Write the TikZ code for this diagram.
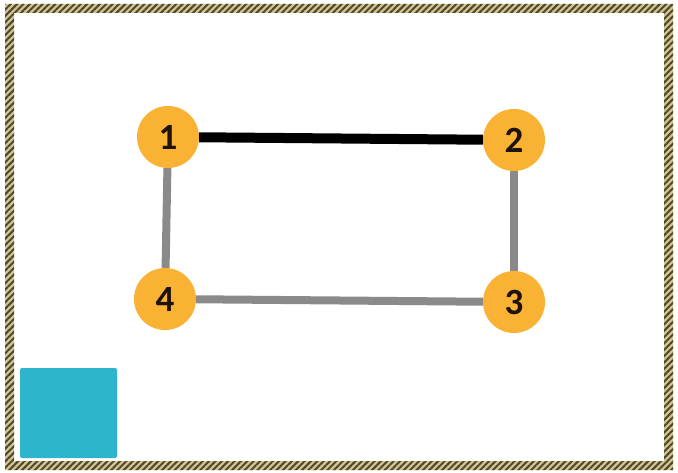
\documentclass[tikz,border=0pt]{standalone}
\usepackage{fontspec}
\setmainfont{Carlito}
\usetikzlibrary{patterns.meta}
\definecolor{nodeorange}{HTML}{F9B233}
\definecolor{edgegrey}{HTML}{8A8A8A}
\definecolor{boxcyan}{HTML}{2DB5CE}
\definecolor{ropelight}{HTML}{D2C58E}
\definecolor{ropedark}{HTML}{4E4630}
\tikzset{
  vertex/.style={circle,fill=nodeorange,minimum size=62pt,inner sep=0pt,
    font=\bfseries\fontsize{37}{37}\selectfont,text=black!85!brown},
  usedge/.style={line width=10pt,black},
  freeedge/.style={line width=8pt,edgegrey}
}
\begin{document}
\begin{tikzpicture}[x=1pt,y=-1pt]
  \useasboundingbox (0,0) rectangle (678,473);
  % frame
  \fill[ropelight,even odd rule] (5,4) rectangle (673,470) (14,13) rectangle (664,461);
  \fill[pattern={Lines[angle=45,distance=4.5pt,line width=2pt]},pattern color=ropedark,even odd rule]
    (5,4) rectangle (673,470) (14,13) rectangle (664,461);

  % square
  \fill[boxcyan,rounded corners=2pt] (20,368) rectangle (117,458);

  \node[vertex] (n1) at (168,137) {1};
  \node[vertex] (n2) at (514,140) {2};
  \node[vertex] (n3) at (514,302) {3};
  \node[vertex] (n4) at (165,299) {4};

  \draw[usedge] (n1) -- (n2);
  \draw[freeedge] (n2) -- (n3);
  \draw[freeedge] (n3) -- (n4);
  \draw[freeedge] (n4) -- (n1);
\end{tikzpicture}
\end{document}
